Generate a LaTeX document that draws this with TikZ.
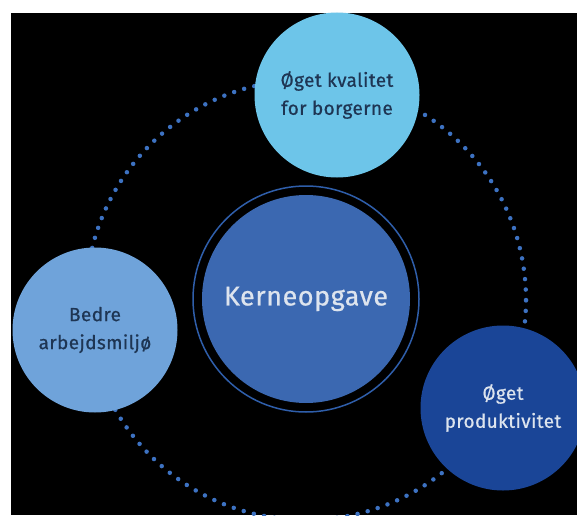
\documentclass[tikz,border=0pt]{standalone}
\usepackage{fontspec}
\setsansfont{Fira Sans}[UprightFeatures={FakeBold=0.6}, LetterSpace=2]
\renewcommand{\familydefault}{\sfdefault}
\definecolor{kvalitetcol}{HTML}{6DC5E9}
\definecolor{miljocol}{HTML}{6FA3DA}
\definecolor{kernecol}{HTML}{3B68B1}
\definecolor{produktcol}{HTML}{1A4597}
\definecolor{dotcol}{HTML}{3D72C2}
\definecolor{ringcol}{HTML}{2F5EAA}
\definecolor{darktext}{HTML}{1E3553}
\definecolor{lighttext}{HTML}{DDE4EE}

\begin{document}
\begin{tikzpicture}[x=1pt, y=1pt,
	bubble/.style={circle, inner sep=0pt, minimum size=165pt, align=center,
		font=\fontsize{19}{28}\selectfont},
	core/.style={circle, inner sep=0pt, minimum size=208pt, fill=kernecol,
		text=lighttext, font=\fontsize{27}{28}\selectfont},
	dotring/.style={dotcol, line width=4.5pt, line cap=round, dash pattern=on 0pt off 10.47pt},
	corering/.style={ringcol, line width=1.5pt},
]
	\useasboundingbox (0,0) rectangle (577,515);
	\fill[white] (0,0) rectangle (577,515);
	\fill[black] (11,0) rectangle (577,502);
	\begin{scope}
		\clip (11,0) rectangle (577,502);
		\coordinate (M) at (306,215);
		\draw[dotring] (M) circle[radius=220];
		\node[core] (kerne) at (306,216) {Kerneopgave};
		\draw[corering] (kerne.center) circle[radius=113];
		\node[bubble, fill=kvalitetcol, text=darktext] (kvalitet) at (337,420) {Øget kvalitet\\for borgerne};
		\node[bubble, fill=miljocol, text=darktext] (miljo) at (95,185) {Bedre\\arbejdsmiljø};
		\node[bubble, fill=produktcol, text=lighttext] (produkt) at (503,107) {Øget\\produktivitet};
	\end{scope}
\end{tikzpicture}
\end{document}
